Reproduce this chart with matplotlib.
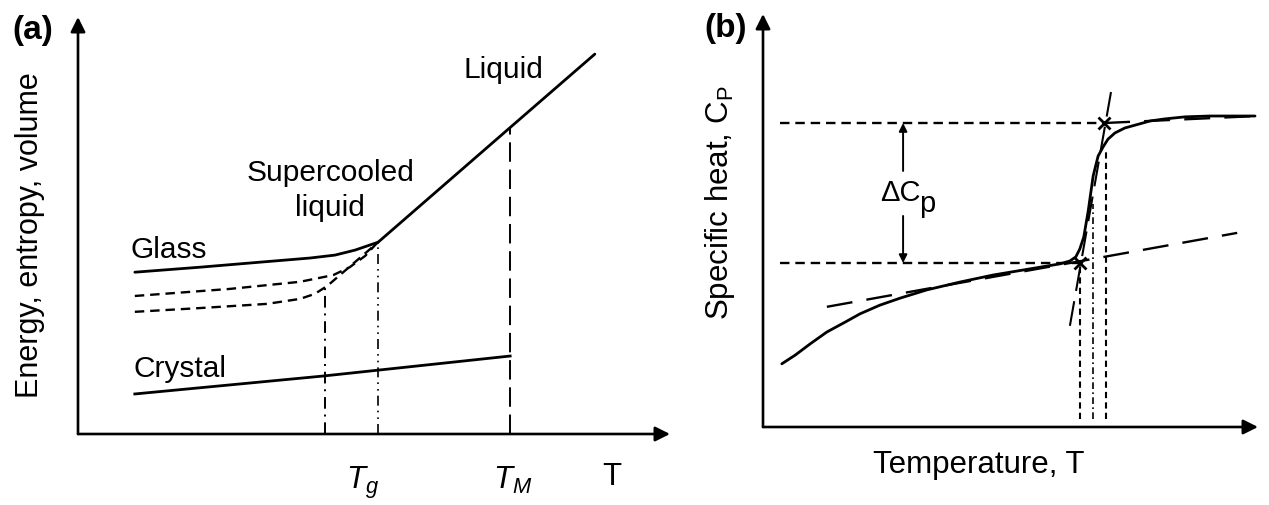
import matplotlib
matplotlib.use("Agg")
import matplotlib.pyplot as plt
from matplotlib.transforms import offset_copy

plt.rcParams["font.family"] = ["Liberation Sans", "DejaVu Sans"]
plt.rcParams["mathtext.fontset"] = "custom"
plt.rcParams["mathtext.rm"] = "Liberation Sans"
plt.rcParams["mathtext.it"] = "Liberation Sans:italic"
plt.rcParams["mathtext.bf"] = "Liberation Sans:bold"

# ---------------- (a) energy / entropy / volume vs temperature ----------------
glass_T = [9.6, 20.6, 30.7, 39.2, 43.4, 46.8, 50.7]
glass_E = [38.8, 40.0, 41.2, 42.2, 42.9, 44.1, 46.0]

liquid_T = [50.7, 73.0, 87.3]
liquid_E = [46.0, 73.5, 91.1]

glass2_T = [9.6, 25.7, 37.5, 43.1, 45.9, 48.5, 50.5]
glass2_E = [33.1, 34.8, 36.5, 38.1, 40.0, 42.7, 45.8]

glass3_T = [9.6, 20.6, 31.9, 37.5, 40.0, 42.1, 50.7]
glass3_E = [29.3, 30.2, 31.2, 32.4, 33.6, 35.5, 46.0]

crystal_T = [9.6, 41.4, 73.0]
crystal_E = [9.6, 13.9, 18.7]

Tg_slow, Tg_slow_E = 41.7, 35.5
Tg, Tg_E = 50.7, 46.0
TM, TM_E = 73.0, 73.5

# ---------------- (b) specific heat through the glass transition ----------------
cp_T = [3.8, 6.5, 9.5, 12.9, 16.6, 19.6, 23.6, 27.7, 33.1, 39.8, 46.5, 54.0, 60.0,
        62.0, 63.2, 64.0, 64.8, 65.7, 66.7, 67.7, 68.7, 69.7, 71.1, 73.1, 75.2,
        78.2, 81.2, 85.3, 90.3, 99.4]
cp_val = [15.3, 17.4, 20.1, 23.0, 25.4, 27.4, 29.5, 31.2, 33.2, 35.1, 36.8, 38.3, 39.5,
          40.2, 41.2, 43.1, 46.0, 52.3, 60.8, 65.6, 67.8, 69.7, 71.2, 72.4, 73.1,
          74.1, 74.6, 75.1, 75.3, 75.3]

cp_glass_level = 39.7
cp_liquid_level = 73.6
glass_base_T = [12.9, 95.8]
glass_base_cp = [29.1, 47.0]
liquid_ext_T = [68.9, 99.8]
liquid_ext_cp = [73.6, 75.3]
tangent_T = [62.0, 70.3]
tangent_cp = [24.5, 81.1]
Tg_onset, Tg_mid, Tg_end = 64.1, 66.7, 69.3
Tg_mid_top, Tg_end_top = 54.0, 67.3
dcp_x = 28.3

W, H = 1269, 506
fig = plt.figure(figsize=(W / 100, H / 100), dpi=100)


def px_axes(left, top, right, bottom):
    return fig.add_axes([left / W, 1 - bottom / H, (right - left) / W, (bottom - top) / H])


def arrow_axes(ax):
    for s in ax.spines.values():
        s.set_visible(False)
    ax.set_xticks([])
    ax.set_yticks([])
    kw = dict(arrowstyle="-|>", lw=1.9, color="black", mutation_scale=22,
              shrinkA=0, shrinkB=0)
    ax.annotate("", xy=(1, 0), xytext=(0, 0), xycoords="axes fraction",
                arrowprops=kw, annotation_clip=False)
    ax.annotate("", xy=(0, 1), xytext=(0, 0), xycoords="axes fraction",
                arrowprops=kw, annotation_clip=False)
    ax.set_xlim(0, 100)
    ax.set_ylim(0, 100)


LW = 2.0
FS = 21.5

# ---- panel (a)
axa = px_axes(78, 18, 670, 435)
arrow_axes(axa)
axa.plot(glass_T, glass_E, color="black", lw=LW, solid_capstyle="round")
axa.plot(liquid_T, liquid_E, color="black", lw=LW, solid_capstyle="round")
axa.plot(glass2_T, glass2_E, color="black", lw=1.7, dashes=(4, 2.5))
axa.plot(glass3_T, glass3_E, color="black", lw=1.7, dashes=(4, 2.5))
axa.plot(crystal_T, crystal_E, color="black", lw=LW)
axa.plot([Tg_slow, Tg_slow], [0, Tg_slow_E], color="black", lw=1.4, dashes=(6, 3, 1, 3))
axa.plot([Tg, Tg], [0, Tg_E], color="black", lw=1.2, dashes=(6, 3, 1, 3, 1, 3))
axa.plot([TM, TM], [0, TM_E], color="black", lw=1.4, dashes=(10, 4))

axa.text(8.8, 44.4, "Glass", fontsize=FS, ha="left", va="center")
axa.text(9.3, 15.8, "Crystal", fontsize=FS, ha="left", va="center")
axa.text(42.6, 62.8, "Supercooled", fontsize=FS, ha="center", va="center")
axa.text(42.6, 54.4, "liquid", fontsize=FS, ha="center", va="center")
axa.text(71.8, 87.5, "Liquid", fontsize=FS, ha="center", va="center")

xt = axa.get_xaxis_transform()
axa.text(48.1, -0.115, r"$T_g$", fontsize=FS + 1, ha="center", va="center", transform=xt)
axa.text(73.5, -0.11, r"$T_M$", fontsize=FS + 1, ha="center", va="center", transform=xt)
axa.text(90.2, -0.10, "T", fontsize=FS + 1, ha="center", va="center", transform=xt)

fig.text(30 / W, 1 - 235 / H, "Energy, entropy, volume", fontsize=FS + 0.5,
         rotation=90, ha="center", va="center")
fig.text(33 / W, 1 - 30 / H, "(a)", fontsize=24, fontweight="bold", ha="center", va="center")

# ---- panel (b)
axb = px_axes(763, 15, 1258, 428)
arrow_axes(axb)
axb.plot([3.4, liquid_ext_T[0]], [cp_liquid_level, cp_liquid_level], color="black",
         lw=1.7, dashes=(4, 2.5))
axb.plot([3.4, Tg_onset], [cp_glass_level, cp_glass_level], color="black",
         lw=1.7, dashes=(4, 2.5))
axb.plot(glass_base_T, glass_base_cp, color="black", lw=1.7, dashes=(11, 6))
axb.plot(liquid_ext_T, liquid_ext_cp, color="black", lw=1.7, dashes=(11, 6))
axb.plot(tangent_T, tangent_cp, color="black", lw=1.5, dashes=(12, 5))
axb.plot(cp_T, cp_val, color="black", lw=LW, solid_capstyle="round")
axb.plot([Tg_onset, Tg_onset], [1.9, cp_glass_level], color="black", lw=1.5, dashes=(3, 2))
axb.plot([Tg_mid, Tg_mid], [1.9, Tg_mid_top], color="black", lw=1.2, dashes=(4, 2, 1, 2))
axb.plot([Tg_end, Tg_end], [1.9, Tg_end_top], color="black", lw=1.5, dashes=(3, 2))
axb.plot([Tg_onset, liquid_ext_T[0]], [cp_glass_level, cp_liquid_level], ls="none",
         marker="x", ms=9, mew=2, color="black")

arrow_kw = dict(arrowstyle="-|>", lw=1.4, color="black", mutation_scale=12,
                shrinkA=0, shrinkB=0)
axb.annotate("", xy=(dcp_x, cp_liquid_level), xytext=(dcp_x, 62.0), arrowprops=arrow_kw)
axb.annotate("", xy=(dcp_x, cp_glass_level), xytext=(dcp_x, 51.1), arrowprops=arrow_kw)
axb.text(dcp_x + 3.6, 57.0, "\u0394C", fontsize=21, ha="right", va="center")
axb.text(dcp_x + 3.6, 57.0, "p", fontsize=21, ha="left", va="center",
         transform=offset_copy(axb.transData, fig=fig, x=-1, y=-8, units="points"))

fig.text(720 / W, 1 - 203 / H, r"Specific heat, C$_{\mathrm{P}}$", fontsize=FS + 1,
         rotation=90, ha="center", va="center")
fig.text(979 / W, 1 - 465 / H, "Temperature, T", fontsize=FS + 1, ha="center", va="center")
fig.text(726 / W, 1 - 29 / H, "(b)", fontsize=24, fontweight="bold", ha="center", va="center")

fig.savefig("out.png", dpi=100)
